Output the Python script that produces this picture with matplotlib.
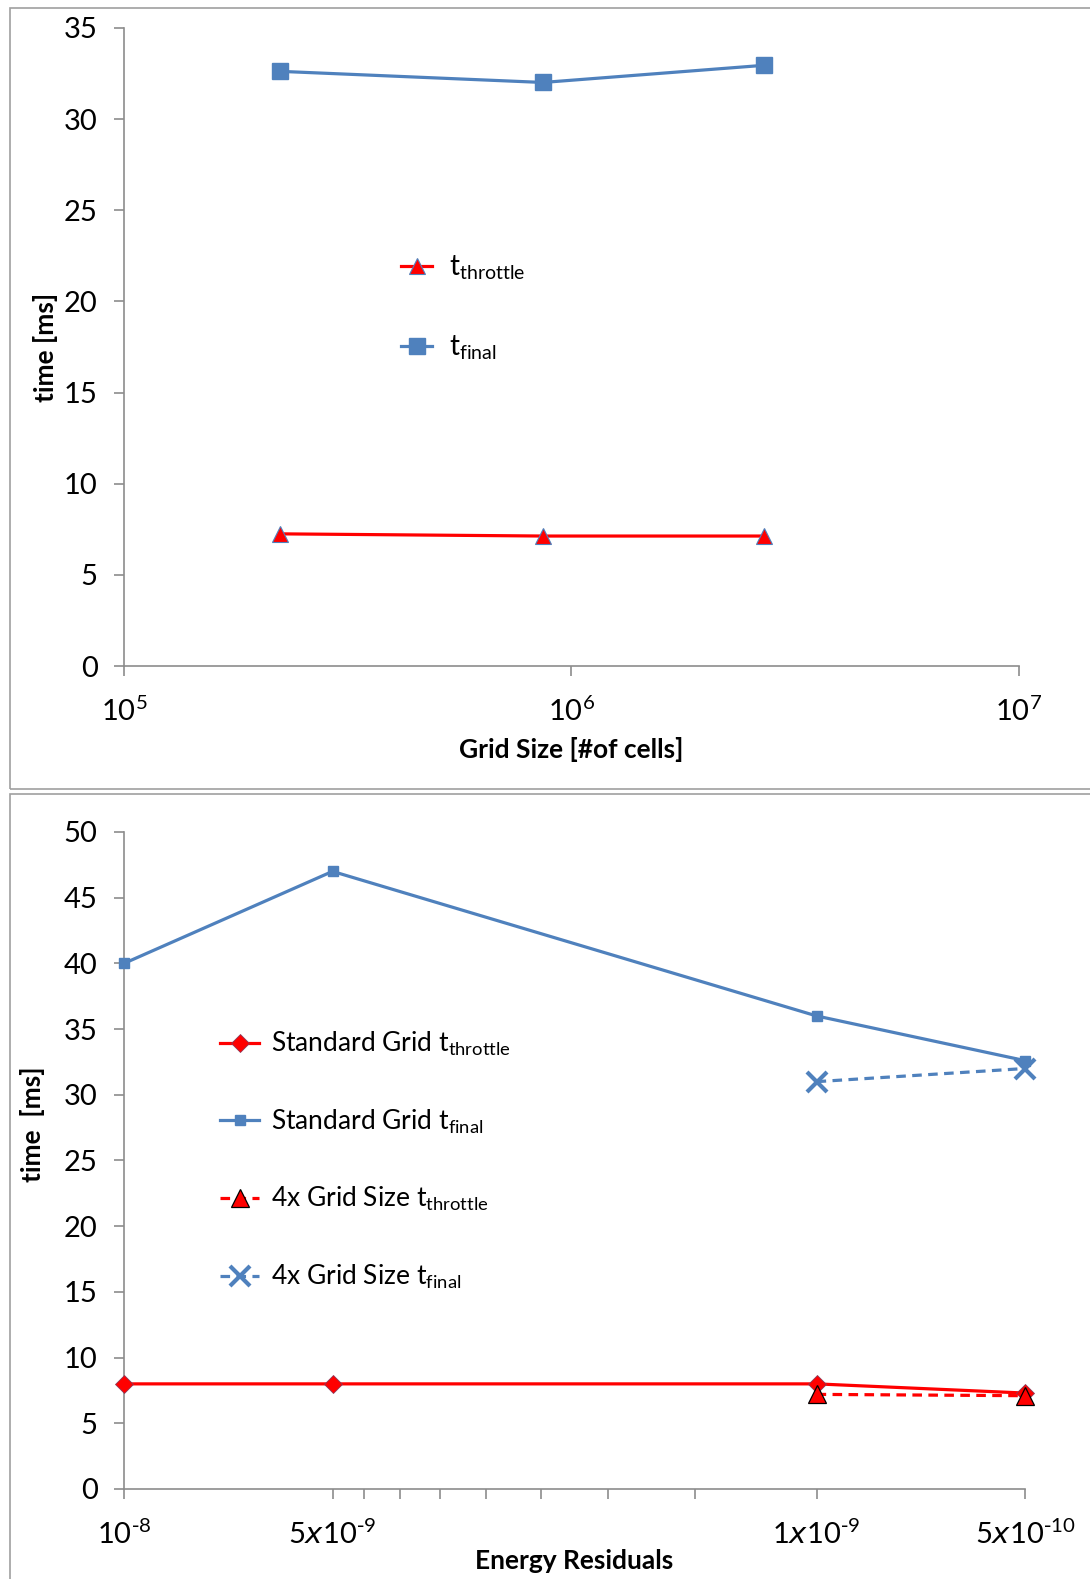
import numpy as np
import matplotlib.pyplot as plt
from matplotlib.patches import Rectangle
from matplotlib.ticker import FixedLocator, NullFormatter, NullLocator

plt.rcParams['font.family'] = ['Lato', 'DejaVu Sans']
plt.rcParams['mathtext.default'] = 'regular'

# top chart: time vs grid size
grid_cells = [2.23e5, 8.63e5, 2.69e6]
top_throttle = [7.25, 7.13, 7.13]
top_final = [32.62, 32.01, 32.95]

# bottom chart: time vs energy residuals
residuals = [1e-8, 5e-9, 1e-9, 5e-10]
std_throttle = [8.0, 8.0, 8.0, 7.3]
std_final = [40.0, 47.0, 36.0, 32.6]
residuals_4x = [1e-9, 5e-10]
grid4x_throttle = [7.2, 7.1]
grid4x_final = [31.0, 32.0]

BLUE = '#4F81BD'
RED = '#FF0000'
AXC = '#8C8C8C'

fig = plt.figure(figsize=(10.9, 15.79), dpi=100)

# panel borders
fig.patches.append(Rectangle((10 / 1090, 1 - 789 / 1579), 1.2, 781 / 1579, transform=fig.transFigure,
                             fill=False, edgecolor='#A0A0A0', linewidth=1.2))
fig.patches.append(Rectangle((10 / 1090, -0.1), 1.2, 0.1 + 1 - 794 / 1579, transform=fig.transFigure,
                             fill=False, edgecolor='#A0A0A0', linewidth=1.2))


def style_axes(ax):
    for s in ['top', 'right']:
        ax.spines[s].set_visible(False)
    for s in ['left', 'bottom']:
        ax.spines[s].set_color(AXC)
        ax.spines[s].set_linewidth(1.2)
    ax.tick_params(axis='both', which='major', direction='out', length=7, width=1.2, color=AXC,
                   labelsize=21)
    ax.tick_params(axis='y', pad=12)
    ax.tick_params(axis='x', pad=15)
    ax.tick_params(axis='x', which='minor', direction='out', length=7, width=1.2, color=AXC)


# ---- top ----
ax1 = fig.add_axes([0.1138, 0.5782, 0.821, 0.4041])
ax1.plot(grid_cells, top_throttle, color=RED, lw=2.3, marker='^', ms=11,
         mfc=RED, mec=BLUE, mew=0.8, label=r'$t_{throttle}$', clip_on=False)
ax1.plot(grid_cells, top_final, color=BLUE, lw=2.3, marker='s', ms=11,
         mfc=BLUE, mec=BLUE, label=r'$t_{final}$', clip_on=False)
ax1.set_xscale('log')
ax1.set_xlim(1e5, 1e7)
ax1.set_ylim(0, 35)
ax1.set_yticks(np.arange(0, 36, 5))
ax1.set_xticks([1e5, 1e6, 1e7])
ax1.set_xticklabels([r'$10^5$', r'$10^6$', r'$10^7$'])
ax1.xaxis.set_minor_locator(NullLocator())
style_axes(ax1)
ax1.set_xlabel('Grid Size [#of cells]', fontsize=19, fontweight='bold', labelpad=8)
ax1.set_ylabel('time [ms]', fontsize=19, fontweight='bold', labelpad=4)
ax1.legend(loc='upper left', bbox_to_anchor=(0.282, 0.685), frameon=False, fontsize=20,
           handlelength=1.1, labelspacing=1.83, handletextpad=0.6)

# ---- bottom ----
ax2 = fig.add_axes([0.1138, 0.0570, 0.8266, 0.4161])
ax2.plot(residuals, std_throttle, color=RED, lw=2.3, marker='D', ms=9,
         mfc=RED, mec='#8E3A59', mew=0.6, label=r'Standard Grid $t_{throttle}$', zorder=3,
         clip_on=False)
ax2.plot(residuals, std_final, color=BLUE, lw=2.3, marker='s', ms=7,
         mfc=BLUE, mec=BLUE, label=r'Standard Grid $t_{final}$', zorder=3, clip_on=False)
ax2.plot(residuals_4x, grid4x_throttle, color=RED, lw=2.3, ls=(0, (3, 2)), marker='^', ms=13,
         mfc=RED, mec='black', mew=0.9, label=r'4x Grid Size $t_{throttle}$', zorder=4,
         clip_on=False)
ax2.plot(residuals_4x, grid4x_final, color=BLUE, lw=2.3, ls=(0, (3, 2)), marker='x', ms=14,
         mew=3, mec=BLUE, label=r'4x Grid Size $t_{final}$', zorder=4, clip_on=False)
ax2.set_xscale('log')
ax2.set_xlim(1e-8, 5e-10)
ax2.set_ylim(0, 50)
ax2.set_yticks(np.arange(0, 51, 5))
ax2.set_xticks(residuals)
ax2.set_xticklabels([r'$10^{\text{-}8}$', r'$5\mathit{x}10^{\text{-}9}$',
                     r'$1\mathit{x}10^{\text{-}9}$', r'$5\mathit{x}10^{\text{-}10}$'])
ax2.xaxis.set_minor_locator(FixedLocator([4.5e-9, 4e-9, 3.5e-9, 3e-9, 2.5e-9, 2e-9, 1.5e-9]))
ax2.xaxis.set_minor_formatter(NullFormatter())
style_axes(ax2)
ax2.set_xlabel('Energy Residuals', fontsize=19, fontweight='bold', labelpad=0)
ax2.set_ylabel('time  [ms]', fontsize=19, fontweight='bold')
ax2.yaxis.set_label_coords(-0.088, 0.555)
ax2.legend(loc='upper left', bbox_to_anchor=(0.08, 0.735), frameon=False, fontsize=19,
           handlelength=1.5, labelspacing=1.875, handletextpad=0.45)

fig.savefig('out.png', dpi=100)
